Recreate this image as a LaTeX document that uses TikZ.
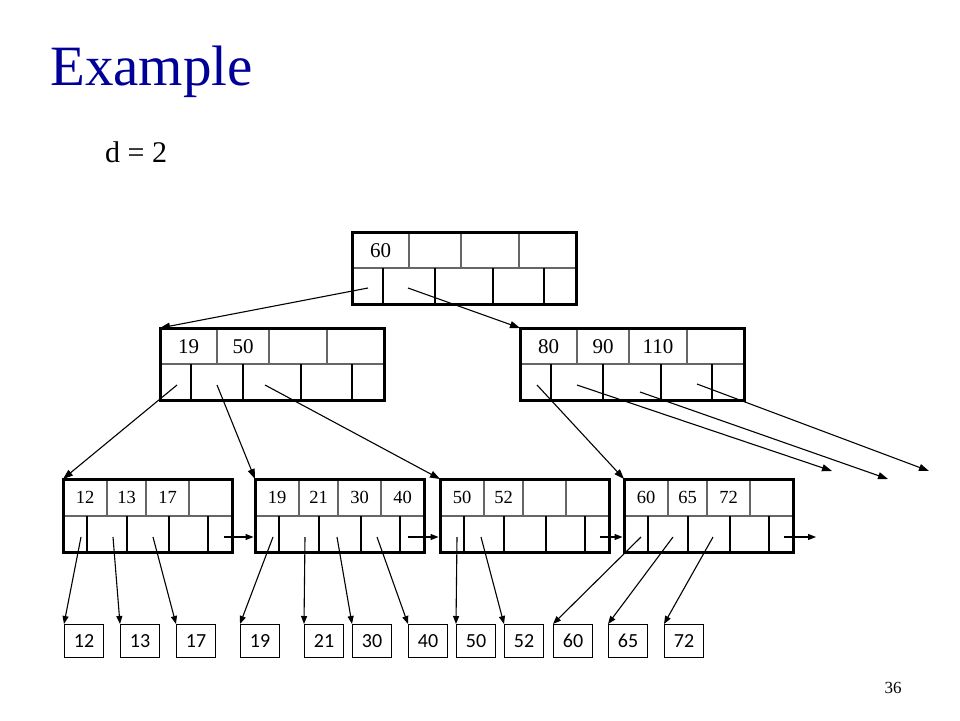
\documentclass[tikz,border=0pt]{standalone}
\usepackage{fontspec}
\setmainfont{Liberation Serif}
\newfontfamily\calibfont{Carlito}
\usetikzlibrary{arrows.meta,calc}
\definecolor{titleblue}{RGB}{0,0,153}
\tikzset{
  outerbox/.style={draw=black, line width=3pt, line join=miter},
  midline/.style={draw=black!60, line width=1.3pt},
  keyline/.style={draw=black!60, line width=1.3pt},
  ptrline/.style={draw=black, line width=1.2pt},
  keytext/.style={font=\fontsize{21}{21}\selectfont, inner sep=0pt},
  leaftext/.style={font=\fontsize{18.5}{18.5}\selectfont, inner sep=0pt},
  databox/.style={draw=black, line width=1.2pt, minimum width=39pt, minimum height=33pt,
    inner sep=0pt, anchor=north west, font=\calibfont\fontsize{20}{20}\selectfont},
  conn/.style={draw=black, line width=1.1pt, -{Triangle[length=10pt,width=7pt]}},
  sconn/.style={draw=black, line width=1.1pt, -{Triangle[length=8pt,width=6pt]}},
  hole/.style={inner sep=0pt, outer sep=0pt, anchor=north west}
}
\newcommand\bpinner[4]{% name, x, y, keys
  \begin{scope}[shift={(#2,#3)}]
    \node[hole, minimum width=224pt, minimum height=72pt] (#1) at (0,0) {};
    \draw[midline] (0,36) -- (224,36);
    \foreach \xx in {57,109,167} \draw[keyline] (\xx,0) -- (\xx,36);
    \foreach \xx in {31,83,141,192} \draw[ptrline] (\xx,36) -- (\xx,72);
    \foreach \k [count=\i from 0] in {#4} {
      \pgfmathsetmacro\cx{{28.5,83,138,195.5}[\i]}
      \node[keytext] (#1-k\i) at (\cx,18.5) {\k};
    }
    \draw[outerbox] (0,0) rectangle (224,72);
  \end{scope}}
\newcommand\bpleaf[4]{% name, x, y, keys
  \begin{scope}[shift={(#2,#3)}]
    \node[hole, minimum width=169pt, minimum height=73pt] (#1) at (0,0) {};
    \draw[midline] (0,37) -- (169,37);
    \foreach \xx in {44,83,126} \draw[keyline] (\xx,0) -- (\xx,37);
    \foreach \xx in {24,64,106,145} \draw[ptrline] (\xx,37) -- (\xx,73);
    \foreach \k [count=\i from 0] in {#4} {
      \pgfmathsetmacro\cx{{22,63.5,104.5,147.5}[\i]}
      \node[leaftext] (#1-k\i) at (\cx,18.5) {\k};
    }
    \draw[outerbox] (0,0) rectangle (169,73);
  \end{scope}}
\begin{document}
\begin{tikzpicture}[x=1pt,y=-1pt]
  \useasboundingbox (0,0) rectangle (960,720);
  \fill[white] (0,0) rectangle (960,720);

  \node[anchor=base west, inner sep=0pt, text=titleblue, font=\fontsize{57}{57}\selectfont] (title) at (50,85) {Example};
  \node[anchor=base west, inner sep=0pt, font=\fontsize{30}{30}\selectfont] (dval) at (105,162) {d = 2};
  \node[inner sep=0pt, font=\fontsize{17}{17}\selectfont] (pagenum) at (893,688) {36};

  % tree nodes
  \bpinner{root}{352}{232}{60}
  \bpinner{na}{160}{328}{19,50}
  \bpinner{nb}{520}{328}{80,90,110}
  \bpleaf{la}{63}{479}{12,13,17}
  \bpleaf{lb}{255}{479}{19,21,30,40}
  \bpleaf{lc}{440}{479}{50,52}
  \bpleaf{ld}{624}{479}{60,65,72}

  % data records
  \node[databox] (d1) at (64,624) {12};
  \node[databox] (d2) at (120,624) {13};
  \node[databox] (d3) at (176,624) {17};
  \node[databox] (d4) at (240,624) {19};
  \node[databox] (d5) at (304,624) {21};
  \node[databox] (d6) at (352,624) {30};
  \node[databox] (d7) at (408,624) {40};
  \node[databox] (d8) at (456,624) {50};
  \node[databox] (d9) at (504,624) {52};
  \node[databox] (d10) at (553,624) {60};
  \node[databox] (d11) at (608,624) {65};
  \node[databox] (d12) at (664,624) {72};

  % pointer origins
  \coordinate (rp1) at (368,288);
  \coordinate (rp2) at (408,288);
  \coordinate (ap1) at (177,385);
  \coordinate (ap2) at (217,385);
  \coordinate (ap3) at (265,385);
  \coordinate (bp1) at (537,385);
  \coordinate (bp2) at (577,385);
  \coordinate (bp3) at (640,392);
  \coordinate (bp4) at (697,384);
  \coordinate (e1) at (832,471);
  \coordinate (e2) at (888,479);
  \coordinate (e3) at (929,471);

  \coordinate (lap1) at (81,537);
  \coordinate (lap2) at (113,537);
  \coordinate (lap3) at (153,537);
  \coordinate (lanx) at (224,537);
  \coordinate (lbp1) at (273,537);
  \coordinate (lbp2) at (305,537);
  \coordinate (lbp3) at (337,537);
  \coordinate (lbp4) at (377,537);
  \coordinate (lbnx) at (408,537);
  \coordinate (lcp1) at (457,537);
  \coordinate (lcp2) at (481,537);
  \coordinate (lcnx) at (600,537);
  \coordinate (ldp1) at (641,537);
  \coordinate (ldp2) at (673,537);
  \coordinate (ldp3) at (713,537);
  \coordinate (ldnx) at (784,537);
  \coordinate (ldend) at (816,537);

  % internal connectors
  \draw[conn] (rp1) -- (na.north west);
  \draw[conn] (rp2) -- (nb.north west);
  \draw[conn] (ap1) -- (la.north west);
  \draw[conn] (ap2) -- (lb.north west);
  \draw[conn] (ap3) -- (lc.north west);
  \draw[conn] (bp1) -- (ld.north west);
  \draw[conn] (bp2) -- (e1);
  \draw[conn] (bp3) -- (e2);
  \draw[conn] (bp4) -- (e3);

  % leaf to record connectors
  \draw[sconn] (lap1) -- (d1.north west);
  \draw[sconn] (lap2) -- (d2.north west);
  \draw[sconn] (lap3) -- (d3.north west);
  \draw[sconn] (lbp1) -- (d4.north west);
  \draw[sconn] (lbp2) -- (d5.north west);
  \draw[sconn] (lbp3) -- (d6.north west);
  \draw[sconn] (lbp4) -- (d7.north west);
  \draw[sconn] (lcp1) -- (d8.north west);
  \draw[sconn] (lcp2) -- (d9.north west);
  \draw[sconn] (ldp1) -- (d10.north west);
  \draw[sconn] (ldp2) -- (d11.north west);
  \draw[sconn] (ldp3) -- (d12.north west);

  % sibling pointers
  \draw[sconn, shorten >=1.5pt] (lanx) -- (lanx -| lb.west);
  \draw[sconn, shorten >=1.5pt] (lbnx) -- (lbnx -| lc.west);
  \draw[sconn, shorten >=1.5pt] (lcnx) -- (lcnx -| ld.west);
  \draw[sconn] (ldnx) -- (ldend);
\end{tikzpicture}
\end{document}
